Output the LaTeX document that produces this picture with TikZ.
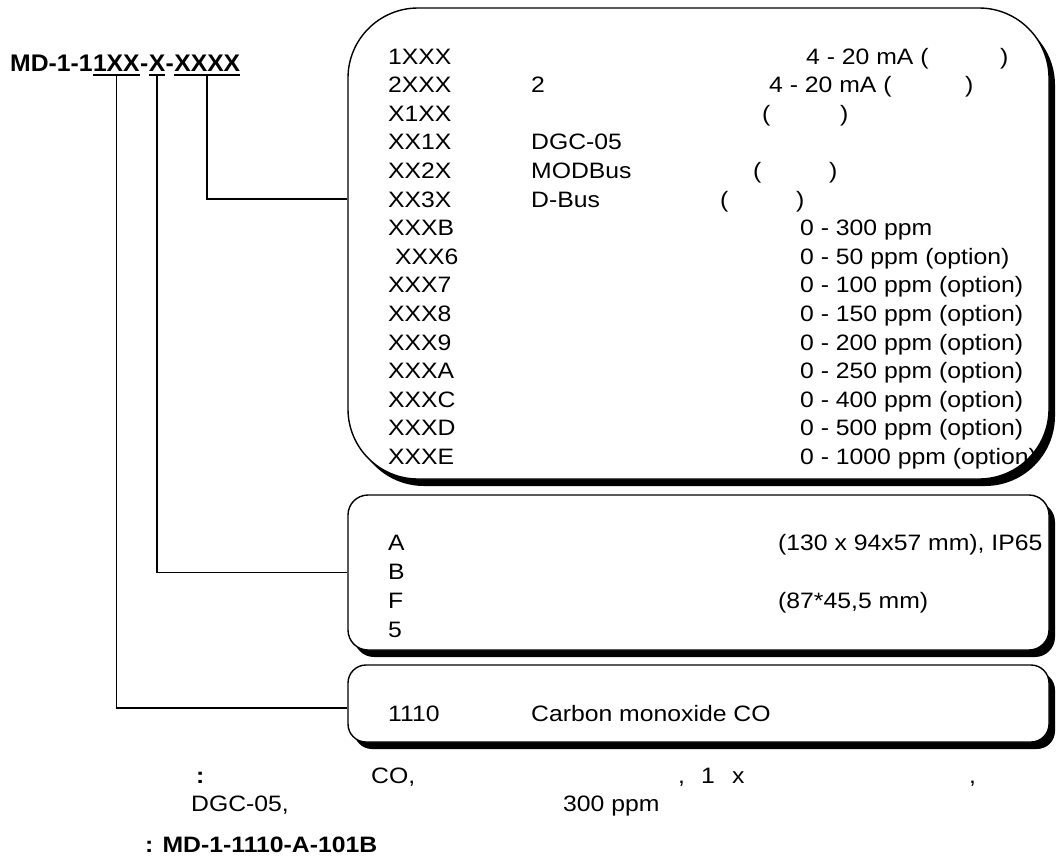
\documentclass[tikz,border=0pt]{standalone}
\usepackage{fontspec}
\setmainfont{Liberation Sans}[FakeStretch=1.11]
\newfontfamily\titlefont{Liberation Sans}[FakeStretch=1.03]
\usetikzlibrary{shadows}
\usetikzlibrary{positioning}

\begin{document}
\begin{tikzpicture}[x=1pt,y=-1pt]

	\useasboundingbox (0,0) rectangle (1057,857);

	\tikzstyle{txt}=[inner sep=0pt, anchor=base west, font=\fontsize{22.3}{27}\selectfont]
	\tikzstyle{ttl}=[inner sep=0pt, anchor=base west, font=\fontsize{24}{28}\titlefont\bfseries]
	\tikzstyle{codebox}=[draw, line width=1.4pt, fill=white, minimum width=701pt,
		drop shadow={shadow xshift=6pt, shadow yshift=-7pt, opacity=1, fill=black}]
	\tikzstyle{wire}=[line width=1.6pt]

	% boxes
	\node[codebox, rounded corners=70pt, minimum height=471pt] (rangebox) at (698.5,243.5) {};
	\node[codebox, rounded corners=20pt, minimum height=155pt] (housebox) at (698.5,572.5) {};
	\node[codebox, rounded corners=18pt, minimum height=77pt] (gasbox) at (698.5,703.5) {};

	% model code
	\node[ttl] (t0) at (10,71) {MD-1-1};
	\node[ttl] (u1) at (t0.base east) {1XX};
	\node[ttl] (t1) at (u1.base east) {-};
	\node[ttl] (u2) at (t1.base east) {X};
	\node[ttl] (t2) at (u2.base east) {-};
	\node[ttl] (u3) at (t2.base east) {XXXX};
	\foreach \u in {u1,u2,u3}
		\draw[wire] ([yshift=-4pt]\u.base west) -- ([yshift=-4pt]\u.base east);

	\draw[wire] ([yshift=-4pt]u3.base) |- ([yshift=44.5pt]rangebox.west);
	\draw[wire] ([yshift=-4pt]u2.base) |- (housebox.west);
	\draw[wire] ([yshift=-4pt]u1.base) |- ([yshift=-4.5pt]gasbox.west);

	% output / range codes
	\foreach \code [count=\i from 0] in {1XXX,2XXX,X1XX,XX1X,XX2X,XX3X,XXXB,{~XXX6},XXX7,XXX8,XXX9,XXXA,XXXC,XXXD,XXXE}
		\node[txt] (c\i) at (388,{64+28.6*\i}) {\code};

	\node[txt] (m1) at (531,{64+28.6*1}) {2};
	\node[txt] (m3) at (531,{64+28.6*3}) {DGC-05};
	\node[txt] (m4) at (531,{64+28.6*4}) {MODBus};
	\node[txt] (m5) at (531,{64+28.6*5}) {D-Bus};

	\node[txt] (r0) at (806,64) {4 - 20 mA (};
	\node[txt] (q0) at (1000,64) {)};
	\node[txt] (r1) at (769,{64+28.6*1}) {4 - 20 mA (};
	\node[txt] (q1) at (965,{64+28.6*1}) {)};
	\node[txt] (r2) at (762,{64+28.6*2}) {(};
	\node[txt] (q2) at (840,{64+28.6*2}) {)};
	\node[txt] (r4) at (753,{64+28.6*4}) {(};
	\node[txt] (q4) at (829,{64+28.6*4}) {)};
	\node[txt] (r5) at (720,{64+28.6*5}) {(};
	\node[txt] (q5) at (796,{64+28.6*5}) {)};

	\foreach \range [count=\i from 6] in {0 - 300 ppm,0 - 50 ppm (option),0 - 100 ppm (option),0 - 150 ppm (option),0 - 200 ppm (option),0 - 250 ppm (option),0 - 400 ppm (option),0 - 500 ppm (option),0 - 1000 ppm (option)}
		\node[txt] (r\i) at (800,{64+28.6*\i}) {\range};

	% housing
	\node[txt] (hA) at (388,550) {A};
	\node[txt] (hB) at (388,579) {B};
	\node[txt] (hF) at (388,608) {F};
	\node[txt] (h5) at (388,637) {5};
	\node[txt] (dA) at (778,550) {(130 x 94x57 mm), IP65};
	\node[txt] (dF) at (778,608) {(87*45,5 mm)};

	% gas
	\node[txt] (g0) at (388,721) {1110};
	\node[txt] (g1) at (531,721) {Carbon monoxide CO};

	% note
	\node[txt] (n0) at (196,783) {\textbf{:}};
	\node[txt] (n1) at (371,783) {CO,};
	\node[txt] (n2) at (678,783) {,};
	\node[txt] (n3) at (701,783) {1};
	\node[txt] (n4) at (732,783) {x};
	\node[txt] (n5) at (969,783) {,};
	\node[txt] (n6) at (191,811) {DGC-05,};
	\node[txt] (n7) at (563,811) {300 ppm};
	\node[txt] (ex) at (145,852) {\textbf{: MD-1-1110-A-101B}};

\end{tikzpicture}
\end{document}
